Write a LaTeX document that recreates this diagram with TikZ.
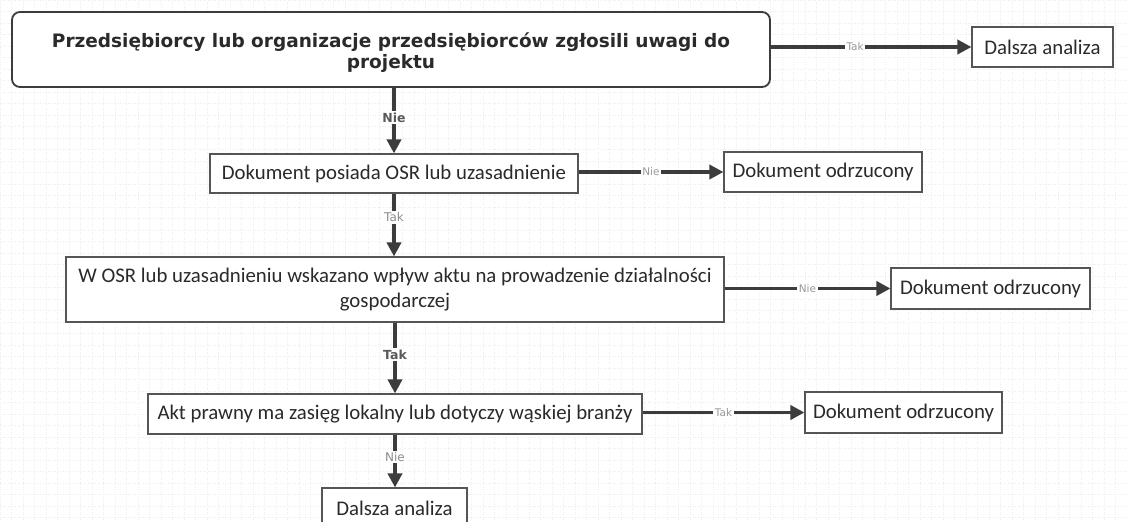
\documentclass[tikz,border=0pt]{standalone}
\usepackage{fontspec}
\setmainfont{Carlito}
\newfontfamily\titlefont{DejaVu Sans}
\newfontfamily\labfont{DejaVu Sans}
\usetikzlibrary{arrows.meta}
\definecolor{linec}{HTML}{3C3C3C}
\definecolor{boxc}{HTML}{555555}
\definecolor{txtc}{HTML}{2A2A2A}
\tikzset{
  x=1pt, y=1pt,
  flowbox/.style={draw=boxc, line width=1.1pt, fill=white, text=txtc, inner sep=0pt, align=center,
    font=\fontsize{20.8}{25}\selectfont},
  startbox/.style={draw=linec, line width=1.8pt, rounded corners=8pt, fill=white, text=txtc, inner sep=0pt,
    align=center, font=\titlefont\bfseries\fontsize{18.5}{21}\selectfont},
  flowarrow/.style={draw=linec, line width=3.6pt, -{Triangle[length=14pt,width=14pt]}},
  hlab/.style={fill=white, inner sep=1.5pt, text=black!40, font=\labfont\fontsize{10.5}{11}\selectfont},
  vlabdark/.style={fill=white, inner sep=1.5pt, text=black!65, font=\labfont\bfseries\fontsize{12.5}{13}\selectfont},
  vlablight/.style={fill=white, inner sep=1.5pt, text=black!45, font=\labfont\fontsize{12}{13}\selectfont},
}
\begin{document}
\begin{tikzpicture}
\useasboundingbox (0,0) rectangle (1127,-522);
\clip (0,0) rectangle (1127,-522);
\fill[white] (0,0) rectangle (1127,-522);
\draw[black!7, dotted, line width=0.5pt, step=11.5] (0,-522) grid (1127,0);

\node[startbox, minimum width=758, minimum height=75] (start) at (391,-49.5)
  {\rule{0pt}{20pt}Przedsiębiorcy lub organizacje przedsiębiorców zgłosili uwagi do\\projektu};
\node[flowbox, minimum width=141, minimum height=40] (dalsza1) at (1042.5,-47) {Dalsza analiza};
\node[flowbox, minimum width=368, minimum height=39] (osr) at (394,-173.5) {Dokument posiada OSR lub uzasadnienie};
\node[flowbox, minimum width=198, minimum height=40] (odrz1) at (823,-172) {Dokument odrzucony};
\node[flowbox, minimum width=658, minimum height=65] (wplyw) at (395,-289.5)
  {W OSR lub uzasadnieniu wskazano wpływ aktu na prowadzenie działalności\\gospodarczej};
\node[flowbox, minimum width=199, minimum height=41] (odrz2) at (990.5,-288.5) {Dokument odrzucony};
\node[flowbox, minimum width=494, minimum height=40] (akt) at (395,-414) {Akt prawny ma zasięg lokalny lub dotyczy wąskiej branży};
\node[flowbox, minimum width=197, minimum height=41] (odrz3) at (903.5,-412.5) {Dokument odrzucony};
\node[flowbox, minimum width=145, minimum height=40, text depth=0pt] (dalsza2) at (394.5,-508) {Dalsza analiza};

\draw[flowarrow] (start.east |- dalsza1.west) -- node[hlab, pos=0.42] {Tak} (dalsza1.west);
\draw[flowarrow] (start.south -| osr.north) -- node[vlabdark, pos=0.45] {Nie} (osr.north);
\draw[flowarrow] (osr.east |- odrz1.west) -- node[hlab] {Nie} (odrz1.west);
\draw[flowarrow] (osr.south) -- node[vlablight, pos=0.38] {Tak} (wplyw.north -| osr.south);
\draw[flowarrow] (wplyw.east |- odrz2.west) -- node[hlab] {Nie} (odrz2.west);
\draw[flowarrow] (wplyw.south) -- node[vlabdark, pos=0.45] {Tak} (akt.north);
\draw[flowarrow] (akt.east |- odrz3.west) -- node[hlab] {Tak} (odrz3.west);
\draw[flowarrow] (akt.south) -- node[vlablight, pos=0.42] {Nie} (dalsza2.north -| akt.south);
\end{tikzpicture}
\end{document}
